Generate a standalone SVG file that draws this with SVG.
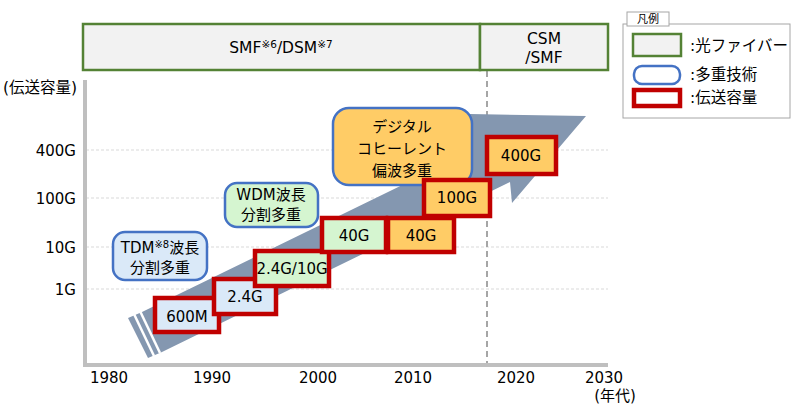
<svg xmlns="http://www.w3.org/2000/svg" width="800" height="416" viewBox="0 0 800 416">
<style>
text{font-family:"DejaVu Sans","Noto Sans CJK JP",sans-serif;fill:#000;}
.t14{font-size:15px;}
.t15{font-size:15.5px;}
.mid{text-anchor:middle;}
.fiber{fill:#f2f2f2;stroke:#548235;stroke-width:2.5;}
.cap{stroke:#c00000;stroke-width:4.5;}
.tech{stroke:#4472c4;stroke-width:2.5;}
.grid{stroke:#d9d9d9;stroke-width:1;stroke-dasharray:3 2;}
.axis{stroke:#bfbfbf;stroke-width:4;fill:none;}
.blue{fill:#dae9f8;}
.green{fill:#d5f5d0;}
.orange{fill:#ffcc66;}
</style>
<rect width="800" height="416" fill="#fff"/>
<g id="grid">
<line class="grid" x1="86" y1="150" x2="608" y2="150"/>
<line class="grid" x1="86" y1="198" x2="608" y2="198"/>
<line class="grid" x1="86" y1="247" x2="608" y2="247"/>
<line class="grid" x1="86" y1="289" x2="608" y2="289"/>
</g>
<line x1="487" y1="71" x2="487" y2="364" stroke="#a6a6a6" stroke-width="2" stroke-dasharray="6 4"/>
<path class="axis" d="M85 80 V365 H608"/>
<g id="fiber-smf">
<rect class="fiber" x="83" y="24" width="397" height="46"/>
<text class="t15 mid" x="281" y="53">SMF<tspan font-size="10.5" dy="-5">※6</tspan><tspan dy="5">/DSM</tspan><tspan font-size="10.5" dy="-5">※7</tspan></text>
</g>
<g id="fiber-csm">
<rect class="fiber" x="480" y="24" width="128" height="46"/>
<text class="t15 mid" x="544" y="44">CSM</text>
<text class="t15 mid" x="544" y="63">/SMF</text>
</g>
<g id="trend-arrow">
<polygon fill="#8497b0" points="128,318 142,312 470,152 470,114 586,116 512,203 510,182 162,352 148,358"/>
<line x1="134" y1="314" x2="154" y2="356" stroke="#fff" stroke-width="2.5"/>
<line x1="140" y1="311" x2="160" y2="353" stroke="#fff" stroke-width="2.5"/>
</g>
<g id="y-labels">
<text class="t15" x="3" y="93">(伝送容量)</text>
<text class="t14" x="76" y="156" text-anchor="end">400G</text>
<text class="t14" x="76" y="204" text-anchor="end">100G</text>
<text class="t14" x="76" y="253" text-anchor="end">10G</text>
<text class="t14" x="76" y="295" text-anchor="end">1G</text>
</g>
<g id="x-labels">
<text class="t14 mid" x="109" y="383">1980</text>
<text class="t14 mid" x="212" y="383">1990</text>
<text class="t14 mid" x="318" y="383">2000</text>
<text class="t14 mid" x="413" y="383">2010</text>
<text class="t14 mid" x="516" y="383">2020</text>
<text class="t14 mid" x="604" y="383">2030</text>
<text class="t14 mid" x="615" y="401">(年代)</text>
</g>
<g id="tech-tdm">
<rect class="tech blue" x="113" y="232" width="94" height="48" rx="12"/>
<text class="t14 mid" x="160" y="253">TDM<tspan font-size="10" dy="-5">※8</tspan><tspan dy="5">波長</tspan></text>
<text class="t14 mid" x="160" y="273">分割多重</text>
</g>
<g id="tech-wdm">
<rect class="tech green" x="225" y="183" width="93" height="44" rx="12"/>
<text class="t14 mid" x="271" y="200">WDM波長</text>
<text class="t14 mid" x="271" y="220">分割多重</text>
</g>
<g id="tech-coherent">
<rect class="tech orange" x="333" y="108" width="139" height="77" rx="16"/>
<text class="t14 mid" x="402" y="132">デジタル</text>
<text class="t14 mid" x="402" y="154">コヒーレント</text>
<text class="t14 mid" x="402" y="176">偏波多重</text>
</g>
<g id="cap-600m">
<rect class="cap blue" x="155" y="298" width="64" height="34"/>
<text class="t14 mid" x="187" y="322">600M</text>
</g>
<g id="cap-2-4g">
<rect class="cap blue" x="214" y="279" width="62" height="35"/>
<text class="t14 mid" x="245" y="302">2.4G</text>
</g>
<g id="cap-2-4g-10g">
<rect class="cap green" x="255" y="251" width="74" height="35"/>
<text class="t14 mid" x="292" y="274" font-size="14.5">2.4G/10G</text>
</g>
<g id="cap-40g-a">
<rect class="cap green" x="322" y="218" width="64" height="34"/>
<text class="t14 mid" x="354" y="241">40G</text>
</g>
<g id="cap-40g-b">
<rect class="cap orange" x="388" y="218" width="66" height="34"/>
<text class="t14 mid" x="421" y="241">40G</text>
</g>
<g id="cap-100g">
<rect class="cap orange" x="424" y="180" width="66" height="36"/>
<text class="t14 mid" x="457" y="203">100G</text>
</g>
<g id="cap-400g">
<rect class="cap orange" x="487" y="137" width="69" height="37"/>
<text class="t14 mid" x="521" y="161">400G</text>
</g>
<g id="legend">
<rect x="623" y="24" width="167" height="94" fill="#fff" stroke="#a6a6a6" stroke-width="1"/>
<rect x="627" y="12" width="42" height="14" fill="#fff" stroke="#a6a6a6" stroke-width="1"/>
<text x="648" y="23" font-size="11" class="mid">凡例</text>
<rect class="fiber" x="633" y="34" width="48" height="22"/>
<text class="t15" x="690" y="51">:光ファイバー</text>
<rect class="tech" fill="#fff" x="634" y="66" width="46" height="18" rx="8"/>
<text class="t15" x="690" y="80">:多重技術</text>
<rect class="cap" fill="#fff" x="634" y="90" width="46" height="16"/>
<text class="t15" x="690" y="103">:伝送容量</text>
</g>
</svg>
